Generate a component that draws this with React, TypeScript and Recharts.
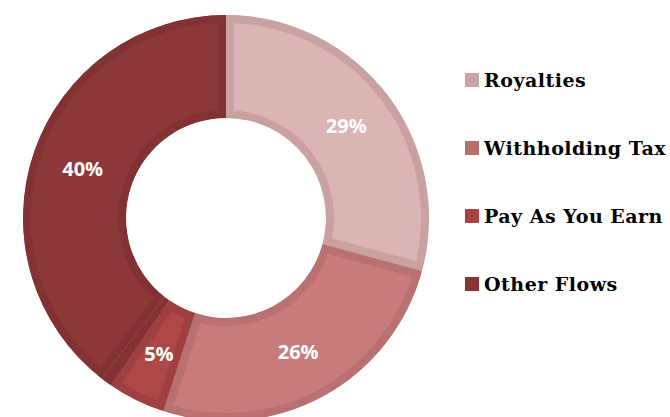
import React from 'react';
import { PieChart, Pie, Cell, Legend, Sector } from 'recharts';

// slice order is clockwise from 12 o'clock
const names = ['Royalties', 'Withholding Tax', 'Pay As You Earn', 'Unallocated', 'Other Flows'];
const values = [29.2, 25.8, 4.6, 0.9, 39.5];
const fills = ['#dbb5b5', '#c87b7a', '#ae4848', '#863538', '#8c3838'];
const borders = ['#c9a1a1', '#b87070', '#a03f40', '#833234', '#833234'];
const legendNames = ['Royalties', 'Withholding Tax', 'Pay As You Earn', 'Other Flows'];
const legendColors = ['#cba1a1', '#b86e6e', '#a84444', '#863636'];

const data = names.map((name, i) => ({ name, value: values[i] }));

const RADIAN = Math.PI / 180;

function BorderedSector(props: any) {
  const id = `slice-clip-${props.index}`;
  return (
    <g>
      <defs>
        <clipPath id={id}>
          <Sector
            cx={props.cx}
            cy={props.cy}
            innerRadius={props.innerRadius}
            outerRadius={props.outerRadius}
            startAngle={props.startAngle}
            endAngle={props.endAngle}
          />
        </clipPath>
      </defs>
      <Sector
        cx={props.cx}
        cy={props.cy}
        innerRadius={props.innerRadius}
        outerRadius={props.outerRadius}
        startAngle={props.startAngle}
        endAngle={props.endAngle}
        fill={props.fill}
        stroke={props.stroke}
        strokeWidth={16}
        clipPath={`url(#${id})`}
      />
    </g>
  );
}

function renderLabel(props: any) {
  const { cx, cy, midAngle, innerRadius, outerRadius, percent } = props;
  if (percent < 0.02) return null;
  const r = (innerRadius + outerRadius) / 2;
  const x = cx + r * Math.cos(-midAngle * RADIAN);
  const y = cy + r * Math.sin(-midAngle * RADIAN);
  return (
    <text
      x={x}
      y={y}
      fill="#ffffff"
      textAnchor="middle"
      dominantBaseline="central"
      fontFamily="'Open Sans', sans-serif"
      fontWeight={700}
      fontSize={20}
    >
      {`${Math.round(percent * 100)}%`}
    </text>
  );
}

function renderLegend() {
  return (
    <div>
      {legendNames.map((n, i) => (
        <div
          key={n}
          style={{ display: 'flex', alignItems: 'center', height: 68, whiteSpace: 'nowrap' }}
        >
          <span
            style={{
              display: 'inline-block',
              flexShrink: 0,
              width: 14,
              height: 14,
              background: legendColors[i],
              marginRight: 5,
            }}
          />
          <span
            style={{
              fontFamily: "'DejaVu Serif', serif",
              fontWeight: 700,
              fontSize: 19,
              letterSpacing: 0.5,
              color: '#000',
            }}
          >
            {n}
          </span>
        </div>
      ))}
    </div>
  );
}

export default function App() {
  return (
    <div style={{ width: 670, height: 417, background: '#fff' }}>
      <style>{'body{margin:0}'}</style>
      <PieChart width={670} height={417}>
        <Pie
          data={data}
          dataKey="value"
          nameKey="name"
          cx={221}
          cy={213}
          innerRadius={100}
          outerRadius={203}
          startAngle={90}
          endAngle={-270}
          label={renderLabel}
          labelLine={false}
          shape={BorderedSector}
          isAnimationActive={false}
        >
          {data.map((d, i) => (
            <Cell key={d.name} fill={fills[i]} stroke={borders[i]} />
          ))}
        </Pie>
        <Legend
          content={renderLegend}
          wrapperStyle={{ left: 465, top: 46, width: 205 }}
        />
      </PieChart>
    </div>
  );
}
